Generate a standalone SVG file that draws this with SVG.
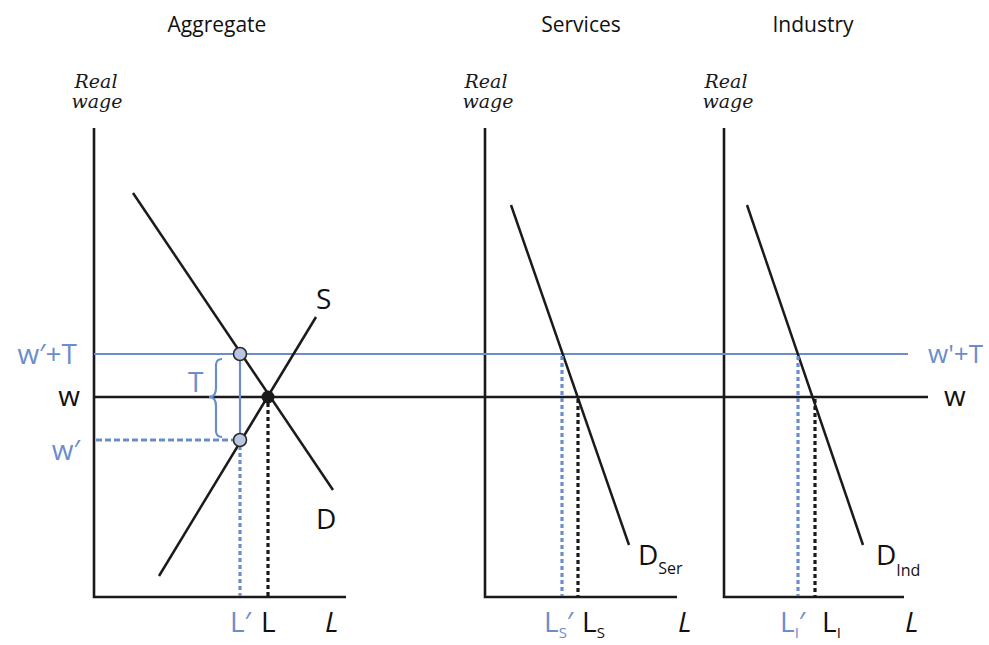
<svg xmlns="http://www.w3.org/2000/svg" width="989" height="645" viewBox="0 0 989 645">
<style>
.ax{stroke:#1a1a1a;stroke-width:2.6;fill:none}
.ln{stroke:#1a1a1a;stroke-width:2.5;fill:none}
.bl{stroke:#6b8dcb;stroke-width:2.2;fill:none}
.bdot{stroke:#6b8dcb;stroke-width:3.2;stroke-dasharray:4,3;fill:none}
.kdot{stroke:#1a1a1a;stroke-width:3.2;stroke-dasharray:4,3;fill:none}
.t{font-family:"Open Sans","Liberation Sans",sans-serif;fill:#111}
.tb{font-family:"Open Sans","Liberation Sans",sans-serif;fill:#6b8dcb}
.rw{font-family:"DejaVu Serif","Liberation Serif",serif;font-style:italic;font-size:19px;fill:#1a1a1a}
.pt{fill:#b9c6e4;stroke:#2a2a2a;stroke-width:1.6}
</style>
<rect width="989" height="645" fill="#fff"/>
<g id="titles">
<text class="t" x="217" y="32" font-size="21" text-anchor="middle">Aggregate</text>
<text class="t" x="581" y="32" font-size="21" text-anchor="middle">Services</text>
<text class="t" x="813" y="32" font-size="21" text-anchor="middle">Industry</text>
</g>
<g id="axis-aggregate">
<path class="ax" d="M94,128 V597 H346"/>
<text class="rw" x="96" y="88" text-anchor="middle">Real</text>
<text class="rw" x="97" y="108" text-anchor="middle">wage</text>
</g>
<g id="axis-services">
<path class="ax" d="M485,128 V597 H677"/>
<text class="rw" x="486" y="88" text-anchor="middle">Real</text>
<text class="rw" x="488" y="108" text-anchor="middle">wage</text>
</g>
<g id="axis-industry">
<path class="ax" d="M724,128 V597 H904"/>
<text class="rw" x="726" y="88" text-anchor="middle">Real</text>
<text class="rw" x="728" y="108" text-anchor="middle">wage</text>
</g>
<g id="connectors">
<line class="bl" x1="94" y1="354" x2="908" y2="354"/>
<line class="ln" x1="94" y1="397" x2="928" y2="397"/>
<line class="ln" x1="133" y1="193" x2="333" y2="490"/>
<line class="ln" x1="159" y1="576" x2="316" y2="317"/>
<line class="ln" x1="511" y1="205" x2="629" y2="545"/>
<line class="ln" x1="747" y1="205" x2="863" y2="545"/>
<line class="bl" x1="240" y1="354" x2="240" y2="440"/>
<line class="bdot" x1="96" y1="440" x2="234" y2="440" style="stroke-dasharray:6,3"/>
<line class="bdot" x1="240" y1="446" x2="240" y2="596"/>
<line class="kdot" x1="268" y1="403" x2="268" y2="596"/>
<line class="bdot" x1="562" y1="356" x2="562" y2="596"/>
<line class="kdot" x1="578" y1="399" x2="578" y2="596"/>
<line class="bdot" x1="798" y1="356" x2="798" y2="596"/>
<line class="kdot" x1="815" y1="399" x2="815" y2="596"/>
<path class="bl" d="M222,359 Q215,359 216,368 L216,388 Q216,397 209,397 Q216,397 216,406 L216,428 Q215,437 222,437"/>
</g>
<g id="points">
<circle class="pt" cx="240" cy="354" r="6.5"/>
<circle class="pt" cx="240" cy="440" r="6.5"/>
<circle cx="268" cy="397" r="6.5" fill="#1a1a1a"/>
</g>
<g id="labels">
<text class="tb" x="77" y="364" font-size="28" text-anchor="end">w′+T</text>
<text class="t" x="80" y="406" font-size="28" text-anchor="end">w</text>
<text class="tb" x="80" y="460" font-size="28" text-anchor="end">w′</text>
<text class="tb" x="188" y="392" font-size="28">T</text>
<text class="tb" x="928" y="363" font-size="26">w'+T</text>
<text class="t" x="944" y="406" font-size="28">w</text>
<text class="t" x="316" y="309" font-size="28">S</text>
<text class="t" x="316" y="529" font-size="28">D</text>
<text class="t" x="638" y="565" font-size="28">D<tspan font-size="16" dy="9">Ser</tspan></text>
<text class="t" x="876" y="565" font-size="28">D<tspan font-size="16" dy="11">Ind</tspan></text>
<text class="tb" x="230" y="632" font-size="28">L′</text>
<text class="t" x="261" y="632" font-size="28">L</text>
<text class="t" x="325" y="632" font-size="28" font-style="italic">L</text>
<text class="tb" x="544" y="632" font-size="28">L<tspan font-size="15" dy="6">S</tspan><tspan dy="-6">′</tspan></text>
<text class="t" x="582" y="632" font-size="28">L<tspan font-size="15" dy="6">S</tspan></text>
<text class="t" x="678" y="632" font-size="28" font-style="italic">L</text>
<text class="tb" x="780" y="632" font-size="28">L<tspan font-size="15" dy="6">I</tspan><tspan dy="-6">′</tspan></text>
<text class="t" x="822" y="632" font-size="28">L<tspan font-size="15" dy="6">I</tspan></text>
<text class="t" x="905" y="632" font-size="28" font-style="italic">L</text>
</g>
</svg>
